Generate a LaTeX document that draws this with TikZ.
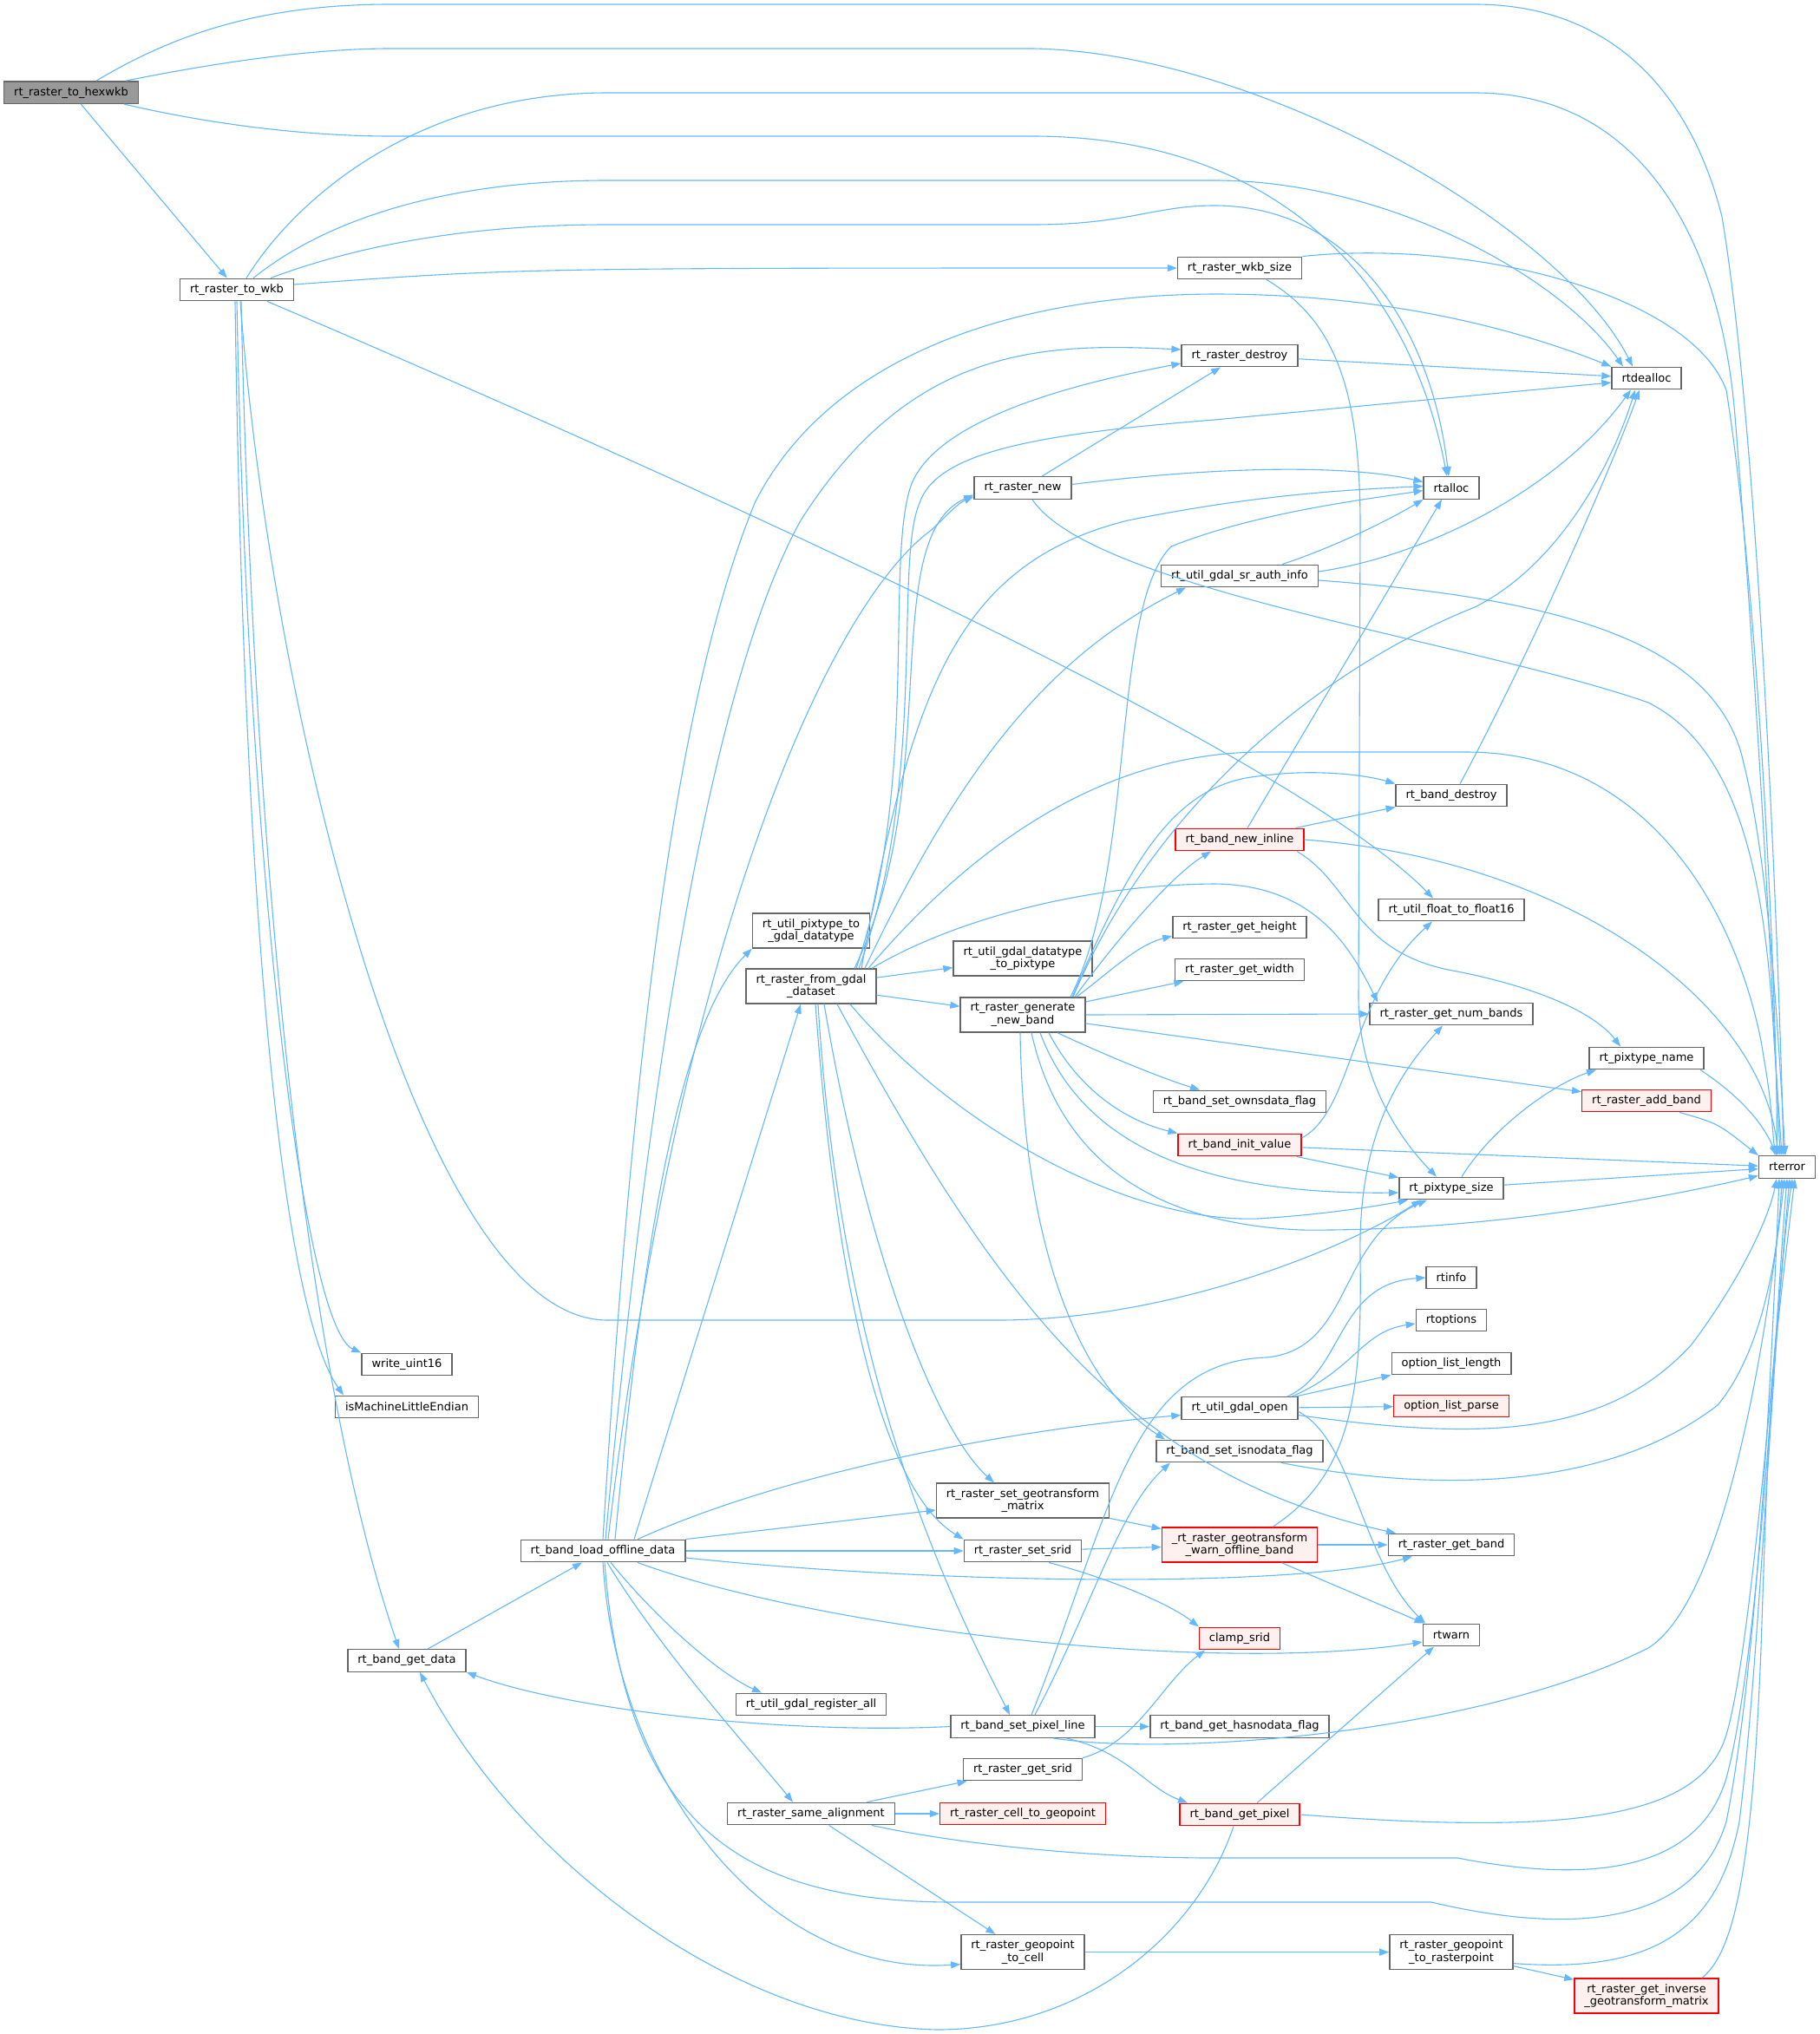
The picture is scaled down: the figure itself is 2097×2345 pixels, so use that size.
\documentclass[tikz,border=0pt]{standalone}
\usepackage{fontspec}
\setmainfont{DejaVu Sans}
\usetikzlibrary{arrows.meta}

\begin{document}
\begin{tikzpicture}[x=1pt, y=-1pt,
    >={Triangle[length=11pt,width=8pt]},
    fnNode/.style={draw=borderColour, fill=white, line width=1.4pt,
        font=\fontsize{13pt}{14.5pt}\selectfont, align=center,
        inner xsep=11.5pt, inner ysep=0pt, minimum height=25.5pt},
    twoLine/.style={fnNode, minimum height=40pt},
    redNode/.style={draw=redBorderColour, fill=redFillColour},
    startNode/.style={fill=startFillColour},
    callEdge/.style={->, draw=edgeColour, line width=1.1pt}]

    \definecolor{borderColour}{HTML}{666666}
    \definecolor{edgeColour}{HTML}{63B8FF}
    \definecolor{redBorderColour}{HTML}{FF0000}
    \definecolor{redFillColour}{HTML}{FFF0F0}
    \definecolor{startFillColour}{HTML}{999999}

    % Page
    \useasboundingbox (0,0) rectangle (2097,2345);
    \fill[white] (0,0) rectangle (2097,2345);

    % Functions
    \node[fnNode, startNode] (hexwkb) at (82,106.6) {rt\_raster\_to\_hexwkb};
    \node[fnNode] (toWkb) at (273,334) {rt\_raster\_to\_wkb};
    \node[fnNode] (wkbSize) at (1429,309) {rt\_raster\_wkb\_size};
    \node[fnNode] (rasterDestroy) at (1429,410) {rt\_raster\_destroy};
    \node[fnNode] (rtdealloc) at (1898,436) {rtdealloc};
    \node[fnNode] (rtalloc) at (1673,562.5) {rtalloc};
    \node[fnNode] (rasterNew) at (1179,562.5) {rt\_raster\_new};
    \node[fnNode] (srAuthInfo) at (1429,664) {rt\_util\_gdal\_sr\_auth\_info};
    \node[fnNode] (bandDestroy) at (1673,917) {rt\_band\_destroy};
    \node[fnNode, redNode] (bandNewInline) at (1429,968) {rt\_band\_new\_inline};
    \node[fnNode] (floatToFloat16) at (1673,1049) {rt\_util\_float\_to\_float16};
    \node[fnNode] (getHeight) at (1429,1069) {rt\_raster\_get\_height};
    \node[fnNode] (getWidth) at (1429,1118) {rt\_raster\_get\_width};
    \node[fnNode] (getNumBands) at (1673,1169) {rt\_raster\_get\_num\_bands};
    \node[twoLine] (pixtypeToGdal) at (935,1073) {rt\_util\_pixtype\_to\\\_gdal\_datatype};
    \node[twoLine] (fromGdal) at (935,1137) {rt\_raster\_from\_gdal\\\_dataset};
    \node[twoLine] (gdalToPixtype) at (1179,1105) {rt\_util\_gdal\_datatype\\\_to\_pixtype};
    \node[twoLine] (generateBand) at (1179,1170) {rt\_raster\_generate\\\_new\_band};
    \node[fnNode] (pixtypeName) at (1898,1220) {rt\_pixtype\_name};
    \node[fnNode, redNode] (addBand) at (1898,1269) {rt\_raster\_add\_band};
    \node[fnNode] (setOwnsdata) at (1429,1270) {rt\_band\_set\_ownsdata\_flag};
    \node[fnNode, redNode] (initValue) at (1429,1320) {rt\_band\_init\_value};
    \node[fnNode] (rterror) at (2060,1345.5) {rterror};
    \node[fnNode] (pixtypeSize) at (1673,1370) {rt\_pixtype\_size};
    \node[fnNode] (rtinfo) at (1673,1473) {rtinfo};
    \node[fnNode] (rtoptions) at (1673,1522) {rtoptions};
    \node[fnNode] (optListLength) at (1673,1572) {option\_list\_length};
    \node[fnNode, redNode] (optListParse) at (1673,1621) {option\_list\_parse};
    \node[fnNode] (gdalOpen) at (1429,1623.5) {rt\_util\_gdal\_open};
    \node[fnNode] (setIsnodata) at (1429,1673) {rt\_band\_set\_isnodata\_flag};
    \node[twoLine] (setGeotransform) at (1179,1730) {rt\_raster\_set\_geotransform\\\_matrix};
    \node[twoLine, redNode] (warnOffline) at (1429,1781) {\_rt\_raster\_geotransform\\\_warn\_offline\_band};
    \node[fnNode] (getBand) at (1673,1781) {rt\_raster\_get\_band};
    \node[fnNode] (loadOffline) at (695,1788) {rt\_band\_load\_offline\_data};
    \node[fnNode] (setSrid) at (1179,1788) {rt\_raster\_set\_srid};
    \node[fnNode, redNode] (clampSrid) at (1429,1889) {clamp\_srid};
    \node[fnNode] (rtwarn) at (1673,1885) {rtwarn};
    \node[fnNode] (writeUint16) at (469,1573) {write\_uint16};
    \node[fnNode] (isLittleEndian) at (469,1622) {isMachineLittleEndian};
    \node[fnNode] (getData) at (469,1914.5) {rt\_band\_get\_data};
    \node[fnNode] (registerAll) at (935,1965) {rt\_util\_gdal\_register\_all};
    \node[fnNode] (setPixelLine) at (1179,1990.5) {rt\_band\_set\_pixel\_line};
    \node[fnNode] (getHasnodata) at (1429,1990.5) {rt\_band\_get\_hasnodata\_flag};
    \node[fnNode] (getSrid) at (1179,2040) {rt\_raster\_get\_srid};
    \node[fnNode] (sameAlignment) at (935,2091) {rt\_raster\_same\_alignment};
    \node[fnNode, redNode] (cellToGeopoint) at (1179,2091) {rt\_raster\_cell\_to\_geopoint};
    \node[fnNode, redNode] (getPixel) at (1429,2092) {rt\_band\_get\_pixel};
    \node[twoLine] (geopointToCell) at (1179,2250.6) {rt\_raster\_geopoint\\\_to\_cell};
    \node[twoLine] (geopointToRaster) at (1673,2250.6) {rt\_raster\_geopoint\\\_to\_rasterpoint};
    \node[twoLine, redNode] (getInverse) at (1898,2301) {rt\_raster\_get\_inverse\\\_geotransform\_matrix};

    % Calls of rt_raster_to_hexwkb
    \draw[callEdge] ([xshift=29pt]hexwkb.north) .. controls (200,40) and (300,5) .. (450,5) -- (1700,5) .. controls (1860,5) and (1950,110) .. (1985,250) .. controls (2030,520) and (2052,1150) .. ([xshift=-4pt]rterror.north);
    \draw[callEdge] ([xshift=63pt]hexwkb.north) .. controls (250,72) and (360,56) .. (450,56) -- (1190,56) .. controls (1450,60) and (1800,260) .. ([xshift=-16pt]rtdealloc.north);
    \draw[callEdge] ([xshift=61pt]hexwkb.south) .. controls (250,145) and (360,157) .. (450,157) -- (1190,157) .. controls (1450,157) and (1620,300) .. ([xshift=-5pt]rtalloc.north);
    \draw[callEdge] (hexwkb) -- (toWkb);

    % Calls of rt_raster_to_wkb
    \draw[callEdge] ([xshift=11pt]toWkb.north) .. controls (340,230) and (480,107) .. (700,107) -- (1700,107) .. controls (1900,107) and (1985,290) .. (2000,480) .. controls (2030,850) and (2046,1200) .. ([xshift=-8pt]rterror.north);
    \draw[callEdge] ([xshift=19pt]toWkb.north) .. controls (380,250) and (520,208) .. (700,208) -- (1400,208) .. controls (1600,208) and (1800,320) .. ([xshift=-27pt]rtdealloc.north);
    \draw[callEdge] ([xshift=39pt]toWkb.north) .. controls (420,280) and (550,259) .. (700,259) -- (1190,259) .. controls (1300,259) and (1330,237) .. (1400,237) .. controls (1560,237) and (1650,380) .. ([xshift=-3pt]rtalloc.north);
    \draw[callEdge] ([yshift=6pt]toWkb.east) .. controls (600,309) .. (wkbSize.west);
    \draw[callEdge] ([xshift=35pt]toWkb.south) .. controls (900,600) and (1500,880) .. ([xshift=-21pt]floatToFloat16.north);
    \draw[callEdge] (toWkb.south) .. controls (285,1000) and (350,1530) .. (writeUint16.north west);
    \draw[callEdge] ([xshift=-2pt]toWkb.south) .. controls (280,1000) and (320,1500) .. ([xshift=-73pt]isLittleEndian.north);
    \draw[callEdge] ([xshift=5pt]toWkb.south) .. controls (290,900) and (340,1550) .. ([xshift=-9pt]getData.north);
    \draw[callEdge] ([xshift=4pt]toWkb.south) .. controls (310,800) and (480,1522) .. (700,1522) -- (1150,1522) .. controls (1350,1522) and (1550,1440) .. ([xshift=-35pt]pixtypeSize.south);

    % Calls of rt_raster_wkb_size, rt_raster_destroy, rt_raster_new
    \draw[callEdge] (wkbSize.north east) .. controls (1700,275) and (1950,340) .. (1990,450) .. controls (2030,700) and (2050,1200) .. ([xshift=-12pt]rterror.north);
    \draw[callEdge] ([xshift=31pt]wkbSize.south) .. controls (1540,370) and (1567,450) .. (1568,600) -- (1566,1150) .. controls (1566,1250) and (1620,1320) .. ([xshift=-17pt]pixtypeSize.north);
    \draw[callEdge] (rasterDestroy) -- (rtdealloc);
    \draw[callEdge] (rasterNew) -- (rasterDestroy);
    \draw[callEdge] ([yshift=4pt]rasterNew.east) .. controls (1400,538) and (1550,535) .. ([yshift=7pt]rtalloc.west);
    \draw[callEdge] ([xshift=11pt]rasterNew.south) .. controls (1260,680) and (1700,740) .. (1900,810) .. controls (2000,860) and (2035,1000) .. (2045,1200) -- ([xshift=-6pt]rterror.north);

    % Calls of rt_util_gdal_sr_auth_info, rt_band_destroy, rt_band_new_inline
    \draw[callEdge] ([xshift=49pt]srAuthInfo.north) .. controls (1540,630) and (1600,600) .. (rtalloc.south west);
    \draw[callEdge] ([yshift=5pt]srAuthInfo.east) .. controls (1650,640) and (1800,560) .. ([xshift=-18pt]rtdealloc.south);
    \draw[callEdge] ([yshift=-5pt]srAuthInfo.east) .. controls (1800,690) and (1980,740) .. (2010,880) .. controls (2040,1000) and (2050,1200) .. ([xshift=-2pt]rterror.north);
    \draw[callEdge] ([xshift=10pt]bandDestroy.north) .. controls (1750,780) and (1850,560) .. ([xshift=-8pt]rtdealloc.south);
    \draw[callEdge] ([xshift=9pt]bandNewInline.north) -- ([xshift=-11pt]rtalloc.south);
    \draw[callEdge] (bandNewInline) -- (bandDestroy);
    \draw[callEdge] (bandNewInline.east) .. controls (1800,990) and (2030,1150) .. ([xshift=-10pt]rterror.north);
    \draw[callEdge] ([xshift=66pt]bandNewInline.south) .. controls (1560,1020) and (1560,1100) .. (1680,1120) .. controls (1780,1140) and (1840,1170) .. ([xshift=-30pt]pixtypeName.north);

    % Calls of rt_raster_from_gdal_dataset
    \draw[callEdge] (fromGdal) -- (gdalToPixtype);
    \draw[callEdge] (fromGdal) -- (generateBand);
    \draw[callEdge] ([xshift=50pt]fromGdal.north) .. controls (1090,900) and (1010,620) .. ([yshift=-8pt]rasterNew.west);
    \draw[callEdge] ([xshift=52pt]fromGdal.north) .. controls (1060,900) and (1020,650) .. (1050,560) .. controls (1080,480) and (1250,440) .. ([yshift=-9pt]rasterDestroy.west);
    \draw[callEdge] ([xshift=55pt]fromGdal.north) .. controls (1070,900) and (1030,650) .. (1060,580) .. controls (1080,520) and (1200,500) .. (1400,484) -- ([yshift=-5pt]rtdealloc.west);
    \draw[callEdge] ([xshift=58pt]fromGdal.north) .. controls (1050,800) and (1100,650) .. (1300,600) .. controls (1450,570) and (1550,565) .. ([yshift=2pt]rtalloc.west);
    \draw[callEdge] ([xshift=62pt]fromGdal.north) .. controls (1100,900) and (1200,760) .. ([xshift=-62pt]srAuthInfo.south);
    \draw[callEdge] ([xshift=66pt]fromGdal.north) .. controls (1100,1000) and (1250,870) .. (1450,867) -- (1690,867) .. controls (1900,867) and (2000,1050) .. (2030,1200) .. controls (2040,1260) .. ([xshift=-14pt]rterror.north);
    \draw[callEdge] ([xshift=70pt]fromGdal.north) .. controls (1100,1060) and (1250,1020) .. (1400,1019) .. controls (1520,1020) and (1560,1100) .. ([xshift=10pt]getNumBands.north west);
    \draw[callEdge] ([xshift=45pt]fromGdal.south) .. controls (1100,1300) and (1300,1410) .. (1450,1405) .. controls (1530,1400) and (1590,1390) .. ([xshift=-50pt]pixtypeSize.south);
    \draw[callEdge] ([xshift=5pt]fromGdal.south) .. controls (965,1500) and (1020,1720) .. (setSrid.north west);
    \draw[callEdge] ([xshift=8pt]fromGdal.south) .. controls (970,1600) and (1100,1850) .. ([xshift=-15pt]setPixelLine.north);
    \draw[callEdge] ([xshift=15pt]fromGdal.south) .. controls (1000,1450) and (1080,1650) .. ([xshift=-33pt]setGeotransform.north);
    \draw[callEdge] ([xshift=30pt]fromGdal.south) .. controls (1150,1500) and (1300,1700) .. ([xshift=-64pt]getBand.north);

    % Calls of rt_raster_generate_new_band
    \draw[callEdge] ([xshift=55pt]generateBand.north) .. controls (1310,1000) and (1280,700) .. (1350,630) .. controls (1450,590) and (1580,575) .. ([yshift=-3pt]rtalloc.west);
    \draw[callEdge] ([xshift=58pt]generateBand.north) .. controls (1320,950) and (1500,780) .. (1700,700) .. controls (1800,650) and (1860,530) .. ([xshift=-13pt]rtdealloc.south);
    \draw[callEdge] ([xshift=60pt]generateBand.north) .. controls (1290,1080) and (1350,1010) .. ([xshift=-33pt]bandNewInline.south);
    \draw[callEdge] ([xshift=57pt]generateBand.north) .. controls (1300,1000) and (1350,905) .. (1450,895) .. controls (1520,885) and (1580,895) .. (bandDestroy.north west);
    \draw[callEdge] ([xshift=62pt]generateBand.north) .. controls (1280,1120) and (1310,1090) .. ([yshift=-10pt]getHeight.west);
    \draw[callEdge] (generateBand) -- (getWidth);
    \draw[callEdge] (generateBand.east) -- (getNumBands.west);
    \draw[callEdge] (generateBand) -- (addBand);
    \draw[callEdge] ([xshift=40pt]generateBand.south) .. controls (1260,1210) and (1330,1240) .. ([xshift=-46pt]setOwnsdata.north);
    \draw[callEdge] ([xshift=30pt]generateBand.south) .. controls (1240,1250) and (1290,1290) .. (initValue.north west);
    \draw[callEdge] ([xshift=-3pt]generateBand.south) .. controls (1180,1450) and (1250,1600) .. ([xshift=-86pt]setIsnodata.north);
    \draw[callEdge] ([xshift=20pt]generateBand.south) .. controls (1240,1300) and (1350,1378) .. ([yshift=-5pt]pixtypeSize.west);
    \draw[callEdge] ([xshift=10pt]generateBand.south) .. controls (1220,1330) and (1320,1410) .. (1500,1418) .. controls (1700,1420) and (1900,1385) .. ([yshift=-10pt]rterror.west);

    % Calls of rt_band_init_value, rt_pixtype_size, rt_pixtype_name, rt_raster_add_band
    \draw[callEdge] (initValue) -- (rterror);
    \draw[callEdge] (initValue) -- (pixtypeSize);
    \draw[callEdge] ([yshift=8pt]initValue.east) .. controls (1560,1280) and (1555,1150) .. ([xshift=-22pt]floatToFloat16.south);
    \draw[callEdge] (pixtypeSize) -- (rterror);
    \draw[callEdge] ([xshift=12pt]pixtypeSize.north) .. controls (1720,1300) and (1790,1250) .. ([xshift=-58pt]pixtypeName.south);
    \draw[callEdge] ([xshift=62pt]pixtypeName.south) .. controls (2000,1260) and (2030,1290) .. ([xshift=-12pt]rterror.north);
    \draw[callEdge] ([xshift=38pt]addBand.south) .. controls (1980,1295) .. (rterror.north west);

    % Calls of rt_util_gdal_open, rt_band_set_isnodata_flag
    \draw[callEdge] ([xshift=55pt]gdalOpen.north) .. controls (1550,1580) and (1540,1480) .. (rtinfo.west);
    \draw[callEdge] ([xshift=60pt]gdalOpen.north) .. controls (1560,1580) and (1570,1535) .. ([yshift=-4pt]rtoptions.west);
    \draw[callEdge] ([xshift=64pt]gdalOpen.north) -- (optListLength.south west);
    \draw[callEdge] (gdalOpen) -- (optListParse);
    \draw[callEdge] ([yshift=-8pt]gdalOpen.east) .. controls (1700,1660) and (1850,1660) .. (1950,1550) .. controls (2010,1470) and (2040,1400) .. ([xshift=-12pt]rterror.south);
    \draw[callEdge] ([yshift=-4pt]gdalOpen.east) .. controls (1560,1660) and (1570,1800) .. ([xshift=-30pt]rtwarn.north);
    \draw[callEdge] ([xshift=48pt]setIsnodata.south) .. controls (1650,1720) and (1850,1720) .. (1980,1620) .. controls (2030,1560) and (2050,1450) .. ([xshift=-6pt]rterror.south);

    % Calls of geotransform and srid setters
    \draw[callEdge] (setGeotransform) -- (warnOffline);
    \draw[callEdge] (setSrid) -- (warnOffline);
    \draw[callEdge] ([xshift=30pt]setSrid.south) .. controls (1280,1820) and (1350,1850) .. (clampSrid.north west);
    \draw[callEdge] (warnOffline) -- (getBand);
    \draw[callEdge] (warnOffline) -- (rtwarn);
    \draw[callEdge] ([xshift=38pt]warnOffline.north) .. controls (1560,1700) and (1570,1600) .. (1568,1450) .. controls (1565,1300) and (1620,1230) .. ([xshift=-10pt]getNumBands.south);

    % Calls of rt_band_load_offline_data
    \draw[callEdge] (loadOffline.north) .. controls (730,1200) and (780,800) .. (870,580) .. controls (950,420) and (1150,340) .. (1400,339) .. controls (1600,339) and (1750,380) .. (rtdealloc.north west);
    \draw[callEdge] ([xshift=3pt]loadOffline.north) .. controls (760,1100) and (840,750) .. (923,600) .. controls (1050,400) and (1200,395) .. ([yshift=7pt]rasterDestroy.west);
    \draw[callEdge] ([xshift=6pt]loadOffline.north) .. controls (780,1100) and (950,700) .. (1075,610) .. controls (1095,590) and (1105,580) .. ([yshift=-10pt]rasterNew.west);
    \draw[callEdge] ([xshift=14pt]loadOffline.north) .. controls (740,1450) and (780,1180) .. (pixtypeToGdal.south west);
    \draw[callEdge] ([xshift=36pt]loadOffline.north) -- ([xshift=-12pt]fromGdal.south);
    \draw[callEdge] ([xshift=40pt]loadOffline.north) .. controls (900,1700) and (1150,1650) .. ([yshift=-8pt]gdalOpen.west);
    \draw[callEdge] (loadOffline.north east) -- ([yshift=-11pt]setGeotransform.west);
    \draw[callEdge] (loadOffline.east) -- (setSrid.west);
    \draw[callEdge] ([yshift=-8pt]loadOffline.east) .. controls (1100,1828) and (1500,1830) .. ([xshift=-45pt]getBand.south);
    \draw[callEdge] ([xshift=40pt]loadOffline.south) .. controls (950,1880) and (1400,1930) .. ([yshift=-8pt]rtwarn.west);
    \draw[callEdge] ([xshift=9pt]loadOffline.south) .. controls (760,1870) and (830,1930) .. ([xshift=-57pt]registerAll.north);
    \draw[callEdge] ([xshift=5pt]loadOffline.south) .. controls (760,1900) and (850,2000) .. ([xshift=-21pt]sameAlignment.north);
    \draw[callEdge] (loadOffline.south) .. controls (710,2050) and (880,2280) .. ([yshift=-14pt]geopointToCell.west);
    \draw[callEdge] ([xshift=2pt]loadOffline.south) .. controls (720,2100) and (850,2193) .. (1100,2193) -- (1650,2193) .. controls (1850,2240) and (1960,2200) .. (1990,2100) .. controls (2030,1900) and (2045,1500) .. ([xshift=-9pt]rterror.south);
    \draw[callEdge] (getData) -- (loadOffline);

    % Calls of rt_band_set_pixel_line
    \draw[callEdge] ([xshift=10pt]setPixelLine.north) .. controls (1280,1750) and (1300,1570) .. (1460,1565) .. controls (1560,1555) and (1540,1430) .. ([xshift=-28pt]pixtypeSize.south);
    \draw[callEdge] ([xshift=14pt]setPixelLine.north) .. controls (1260,1850) and (1290,1740) .. ([xshift=-80pt]setIsnodata.south);
    \draw[callEdge] (setPixelLine) -- (getHasnodata);
    \draw[callEdge] ([xshift=50pt]setPixelLine.south) .. controls (1300,2020) and (1320,2060) .. ([xshift=-60pt]getPixel.north);
    \draw[callEdge] ([xshift=35pt]setPixelLine.south) .. controls (1350,2025) and (1700,2000) .. (1900,1900) .. controls (1980,1850) and (2030,1600) .. ([xshift=-3pt]rterror.south);
    \draw[callEdge] (setPixelLine.west) .. controls (900,2000) and (650,1970) .. (getData.south east);

    % Calls of rt_raster_get_srid, rt_raster_same_alignment
    \draw[callEdge] (getSrid.north east) .. controls (1310,2010) and (1340,1940) .. ([xshift=-40pt]clampSrid.south);
    \draw[callEdge] (sameAlignment) -- (getSrid);
    \draw[callEdge] (sameAlignment) -- (cellToGeopoint);
    \draw[callEdge] (sameAlignment) -- (geopointToCell);
    \draw[callEdge] ([xshift=70pt]sameAlignment.south) .. controls (1100,2125) and (1250,2142) .. (1400,2142) -- (1680,2142) .. controls (1850,2175) and (1960,2150) .. (1990,2050) .. controls (2030,1900) and (2048,1500) .. (rterror.south);

    % Calls of rt_band_get_pixel
    \draw[callEdge] ([xshift=20pt]getPixel.north) -- ([xshift=-20pt]rtwarn.south);
    \draw[callEdge] (getPixel.east) .. controls (1800,2115) and (1960,2100) .. (1990,2000) .. controls (2020,1900) and (2050,1500) .. ([xshift=3pt]rterror.south);
    \draw[callEdge] ([xshift=-7pt]getPixel.south) .. controls (1380,2230) and (1250,2340) .. (1080,2340) .. controls (850,2335) and (600,2150) .. ([xshift=15pt]getData.south);

    % Geopoint conversions
    \draw[callEdge] (geopointToCell) -- (geopointToRaster);
    \draw[callEdge] (geopointToRaster) -- (getInverse);
    \draw[callEdge] ([yshift=-13pt]geopointToRaster.east) .. controls (1900,2275) and (1980,2230) .. (2005,2100) .. controls (2030,1900) and (2045,1500) .. ([xshift=6pt]rterror.south);
    \draw[callEdge] ([xshift=64pt]getInverse.north) .. controls (2000,2250) and (2020,2150) .. (2030,1900) .. controls (2040,1600) .. ([xshift=9pt]rterror.south);

\end{tikzpicture}
\end{document}
